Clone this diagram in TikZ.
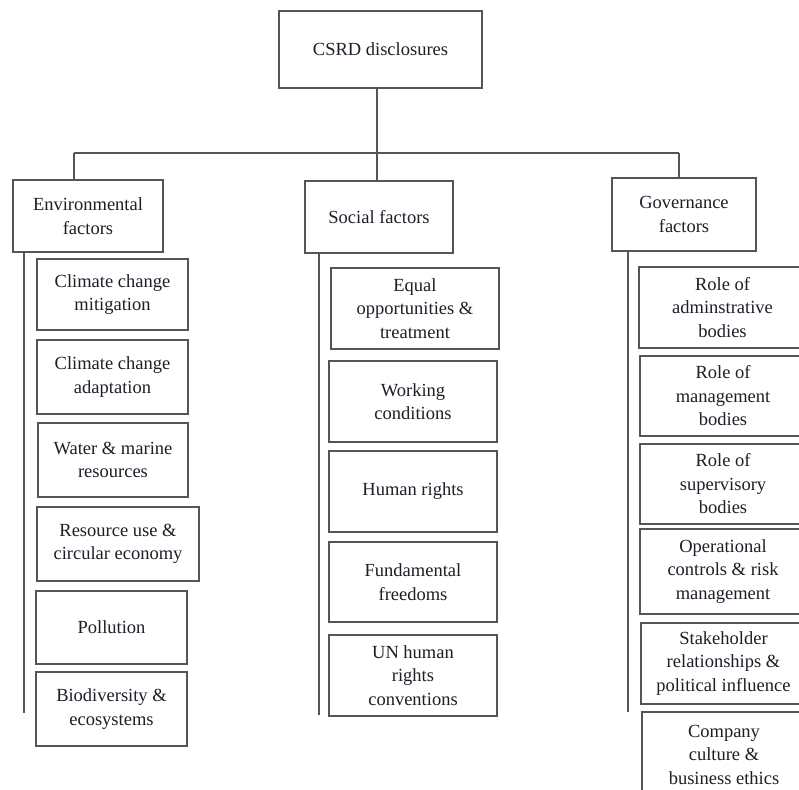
\documentclass[tikz,border=0pt]{standalone}
\usepackage{fontspec}
\setmainfont{Liberation Serif}
\definecolor{linegray}{HTML}{555555}
\definecolor{txt}{HTML}{1E1E28}
\tikzset{
  box/.style={draw=linegray, line width=1.5pt, fill=white, align=center, text=txt,
    font=\fontsize{18.5}{23.5}\selectfont, inner sep=0pt},
  conn/.style={draw=linegray, line width=1.5pt}
}
\begin{document}
\begin{tikzpicture}[x=1pt,y=-1pt]
\clip (0,0) rectangle (799,789);
\fill[white] (0,0) rectangle (799,789);
% top
\node[box, minimum width=203pt, minimum height=77pt] (top) at (380.5,49.5) {CSRD disclosures};
% categories
\node[box, minimum width=150pt, minimum height=72pt] (env) at (88,216) {Environmental\\factors};
\node[box, minimum width=148pt, minimum height=72pt] (soc) at (379,217) {Social factors};
\node[box, minimum width=144pt, minimum height=73pt] (gov) at (684,214.5) {Governance\\factors};
% connectors
\coordinate (busL) at (74,153);
\coordinate (busR) at (679,153);
\coordinate (tk) at (377,153);
\draw[conn] (busL) -- (busR);
\draw[conn] (busL) -- (env.north -| busL);
\draw[conn] (busR) -- (gov.north -| busR);
\draw[conn] (top.south -| tk) -- (soc.north -| tk);
% stems
\coordinate (eend) at (24,713);
\coordinate (send) at (319,715);
\coordinate (gend) at (628,712);
\draw[conn] (env.south -| eend) -- (eend);
\draw[conn] (soc.south -| send) -- (send);
\draw[conn] (gov.south -| gend) -- (gend);
% environmental
\node[box, minimum width=151pt, minimum height=71pt] (e1) at (112.5,294.5) {Climate change\\mitigation};
\node[box, minimum width=151pt, minimum height=74pt] (e2) at (112.5,377) {Climate change\\adaptation};
\node[box, minimum width=150pt, minimum height=74pt] (e3) at (113,460) {Water \& marine\\resources};
\node[box, minimum width=162pt, minimum height=74pt] (e4) at (118,544) {Resource use \&\\circular economy};
\node[box, minimum width=151pt, minimum height=73pt] (e5) at (111.5,627.5) {Pollution};
\node[box, minimum width=151pt, minimum height=74pt] (e6) at (111.5,709) {Biodiversity \&\\ecosystems};
% social
\node[box, minimum width=168pt, minimum height=81pt] (s1) at (415,308.5) {Equal\\opportunities \&\\treatment};
\node[box, minimum width=168pt, minimum height=81pt] (s2) at (413,401.5) {Working\\conditions};
\node[box, minimum width=168pt, minimum height=81pt] (s3) at (413,491.5) {Human rights};
\node[box, minimum width=168pt, minimum height=80pt] (s4) at (413,582) {Fundamental\\freedoms};
\node[box, minimum width=168pt, minimum height=81pt] (s5) at (413,675.5) {UN human\\rights\\conventions};
% governance
\node[box, minimum width=167pt, minimum height=81pt] (g1) at (722.5,307.5) {Role of\\adminstrative\\bodies};
\node[box, minimum width=166pt, minimum height=80pt] (g2) at (723,396) {Role of\\management\\bodies};
\node[box, minimum width=166pt, minimum height=80pt] (g3) at (723,484) {Role of\\supervisory\\bodies};
\node[box, minimum width=166pt, minimum height=85pt] (g4) at (723,571.5) {Operational\\controls \& risk\\management};
\node[box, minimum width=165pt, minimum height=81pt] (g5) at (723.5,663.5) {Stakeholder\\relationships \&\\political influence};
\node[box, minimum width=164pt, minimum height=85pt] (g6) at (724,754.5) {Company\\culture \&\\business ethics};
\end{tikzpicture}
\end{document}
